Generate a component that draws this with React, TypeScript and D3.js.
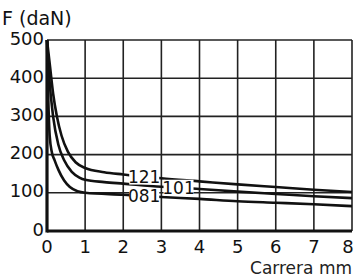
import * as React from "react";
import * as d3 from "d3";

// stroke (mm) and force (daN)
const X_TICKS = [0, 1, 2, 3, 4, 5, 6, 7, 8];
const Y_TICKS = [0, 100, 200, 300, 400, 500];

const S121: [number, number][] = [
  [0, 500], [0.08, 430], [0.16, 360], [0.26, 300], [0.38, 250], [0.55, 207],
  [0.75, 180], [1, 165], [1.5, 154], [2, 148], [3, 138], [4, 130], [5, 122],
  [6, 115], [7, 108], [8, 102],
];
const S101: [number, number][] = [
  [0, 500], [0.06, 400], [0.16, 300], [0.3, 225], [0.45, 185], [0.65, 155],
  [0.85, 140], [1, 134], [1.5, 128], [2, 124], [3, 116], [4, 110], [5, 103],
  [6, 97], [7, 91], [8, 86],
];
const S081: [number, number][] = [
  [0, 500], [0.03, 360], [0.07, 250], [0.13, 205], [0.2, 185], [0.3, 160],
  [0.45, 132], [0.6, 115], [0.8, 104], [1, 100], [2, 95], [3, 89], [4, 84],
  [5, 78], [6, 74], [7, 70], [8, 65],
];

const SERIES = [
  { name: "121", data: S121, labelAt: 2.55 },
  { name: "101", data: S101, labelAt: 3.45 },
  { name: "081", data: S081, labelAt: 2.55 },
];

const W = 354;
const H = 278;
const FONT = "'DejaVu Sans', sans-serif";

export default function App() {
  const x = d3.scaleLinear().domain([0, 8]).range([47, 352]);
  const y = d3.scaleLinear().domain([0, 500]).range([231, 40]);

  const line = d3
    .line<[number, number]>()
    .x((d) => x(d[0]))
    .y((d) => y(d[1]))
    .curve(d3.curveMonotoneX);

  const valueAt = (data: [number, number][], v: number) => {
    const i = d3.bisector((d: [number, number]) => d[0]).left(data, v);
    const a = data[Math.max(0, i - 1)];
    const b = data[Math.min(data.length - 1, i)];
    if (a[0] === b[0]) return a[1];
    return a[1] + ((b[1] - a[1]) * (v - a[0])) / (b[0] - a[0]);
  };

  return (
    <svg
      width={W}
      height={H}
      style={{ position: "fixed", left: 0, top: 0, background: "#fff" }}
      fontFamily={FONT}
    >
      {/* grid */}
      {X_TICKS.map((t) => (
        <line key={"vx" + t} x1={x(t)} x2={x(t)} y1={y(0)} y2={y(500)} stroke="#222" strokeWidth={1.6} />
      ))}
      {Y_TICKS.map((t) => (
        <line key={"hy" + t} x1={x(0)} x2={x(8)} y1={y(t)} y2={y(t)} stroke="#222" strokeWidth={1.6} />
      ))}
      {/* heavy axes */}
      <line x1={x(0)} x2={x(0)} y1={y(0) + 1.5} y2={y(500)} stroke="#111" strokeWidth={3.2} />
      <line x1={x(0)} x2={x(8)} y1={y(0)} y2={y(0)} stroke="#111" strokeWidth={3.2} />

      {/* curves */}
      {SERIES.map((s) => (
        <path key={s.name} d={line(s.data) ?? ""} fill="none" stroke="#111" strokeWidth={2.6} />
      ))}

      {/* curve labels */}
      {SERIES.map((s) => {
        const lx = x(s.labelAt);
        const ly = y(valueAt(s.data, s.labelAt));
        return (
          <g key={"l" + s.name}>
            <rect x={lx - 15} y={ly - 8} width={30} height={16} fill="#fff" />
            <text x={lx} y={ly} textAnchor="middle" dominantBaseline="central" fontSize={17} fill="#111">
              {s.name}
            </text>
          </g>
        );
      })}

      {/* y tick labels */}
      {Y_TICKS.map((t) => (
        <text key={"yt" + t} x={x(0) - 3} y={y(t) - 2} textAnchor="end" dominantBaseline="central" fontSize={18} fill="#111">
          {t}
        </text>
      ))}
      {/* x tick labels */}
      {X_TICKS.map((t) => (
        <text key={"xt" + t} x={x(t) - (t === 8 ? 4 : 0)} y={246} textAnchor="middle" dominantBaseline="central" fontSize={18} fill="#111">
          {t}
        </text>
      ))}

      <text x={2} y={18} dominantBaseline="central" fontSize={19} fill="#111">
        F (daN)
      </text>
      <text x={352} y={268} textAnchor="end" dominantBaseline="central" fontSize={17} fill="#222">
        Carrera mm
      </text>
    </svg>
  );
}
